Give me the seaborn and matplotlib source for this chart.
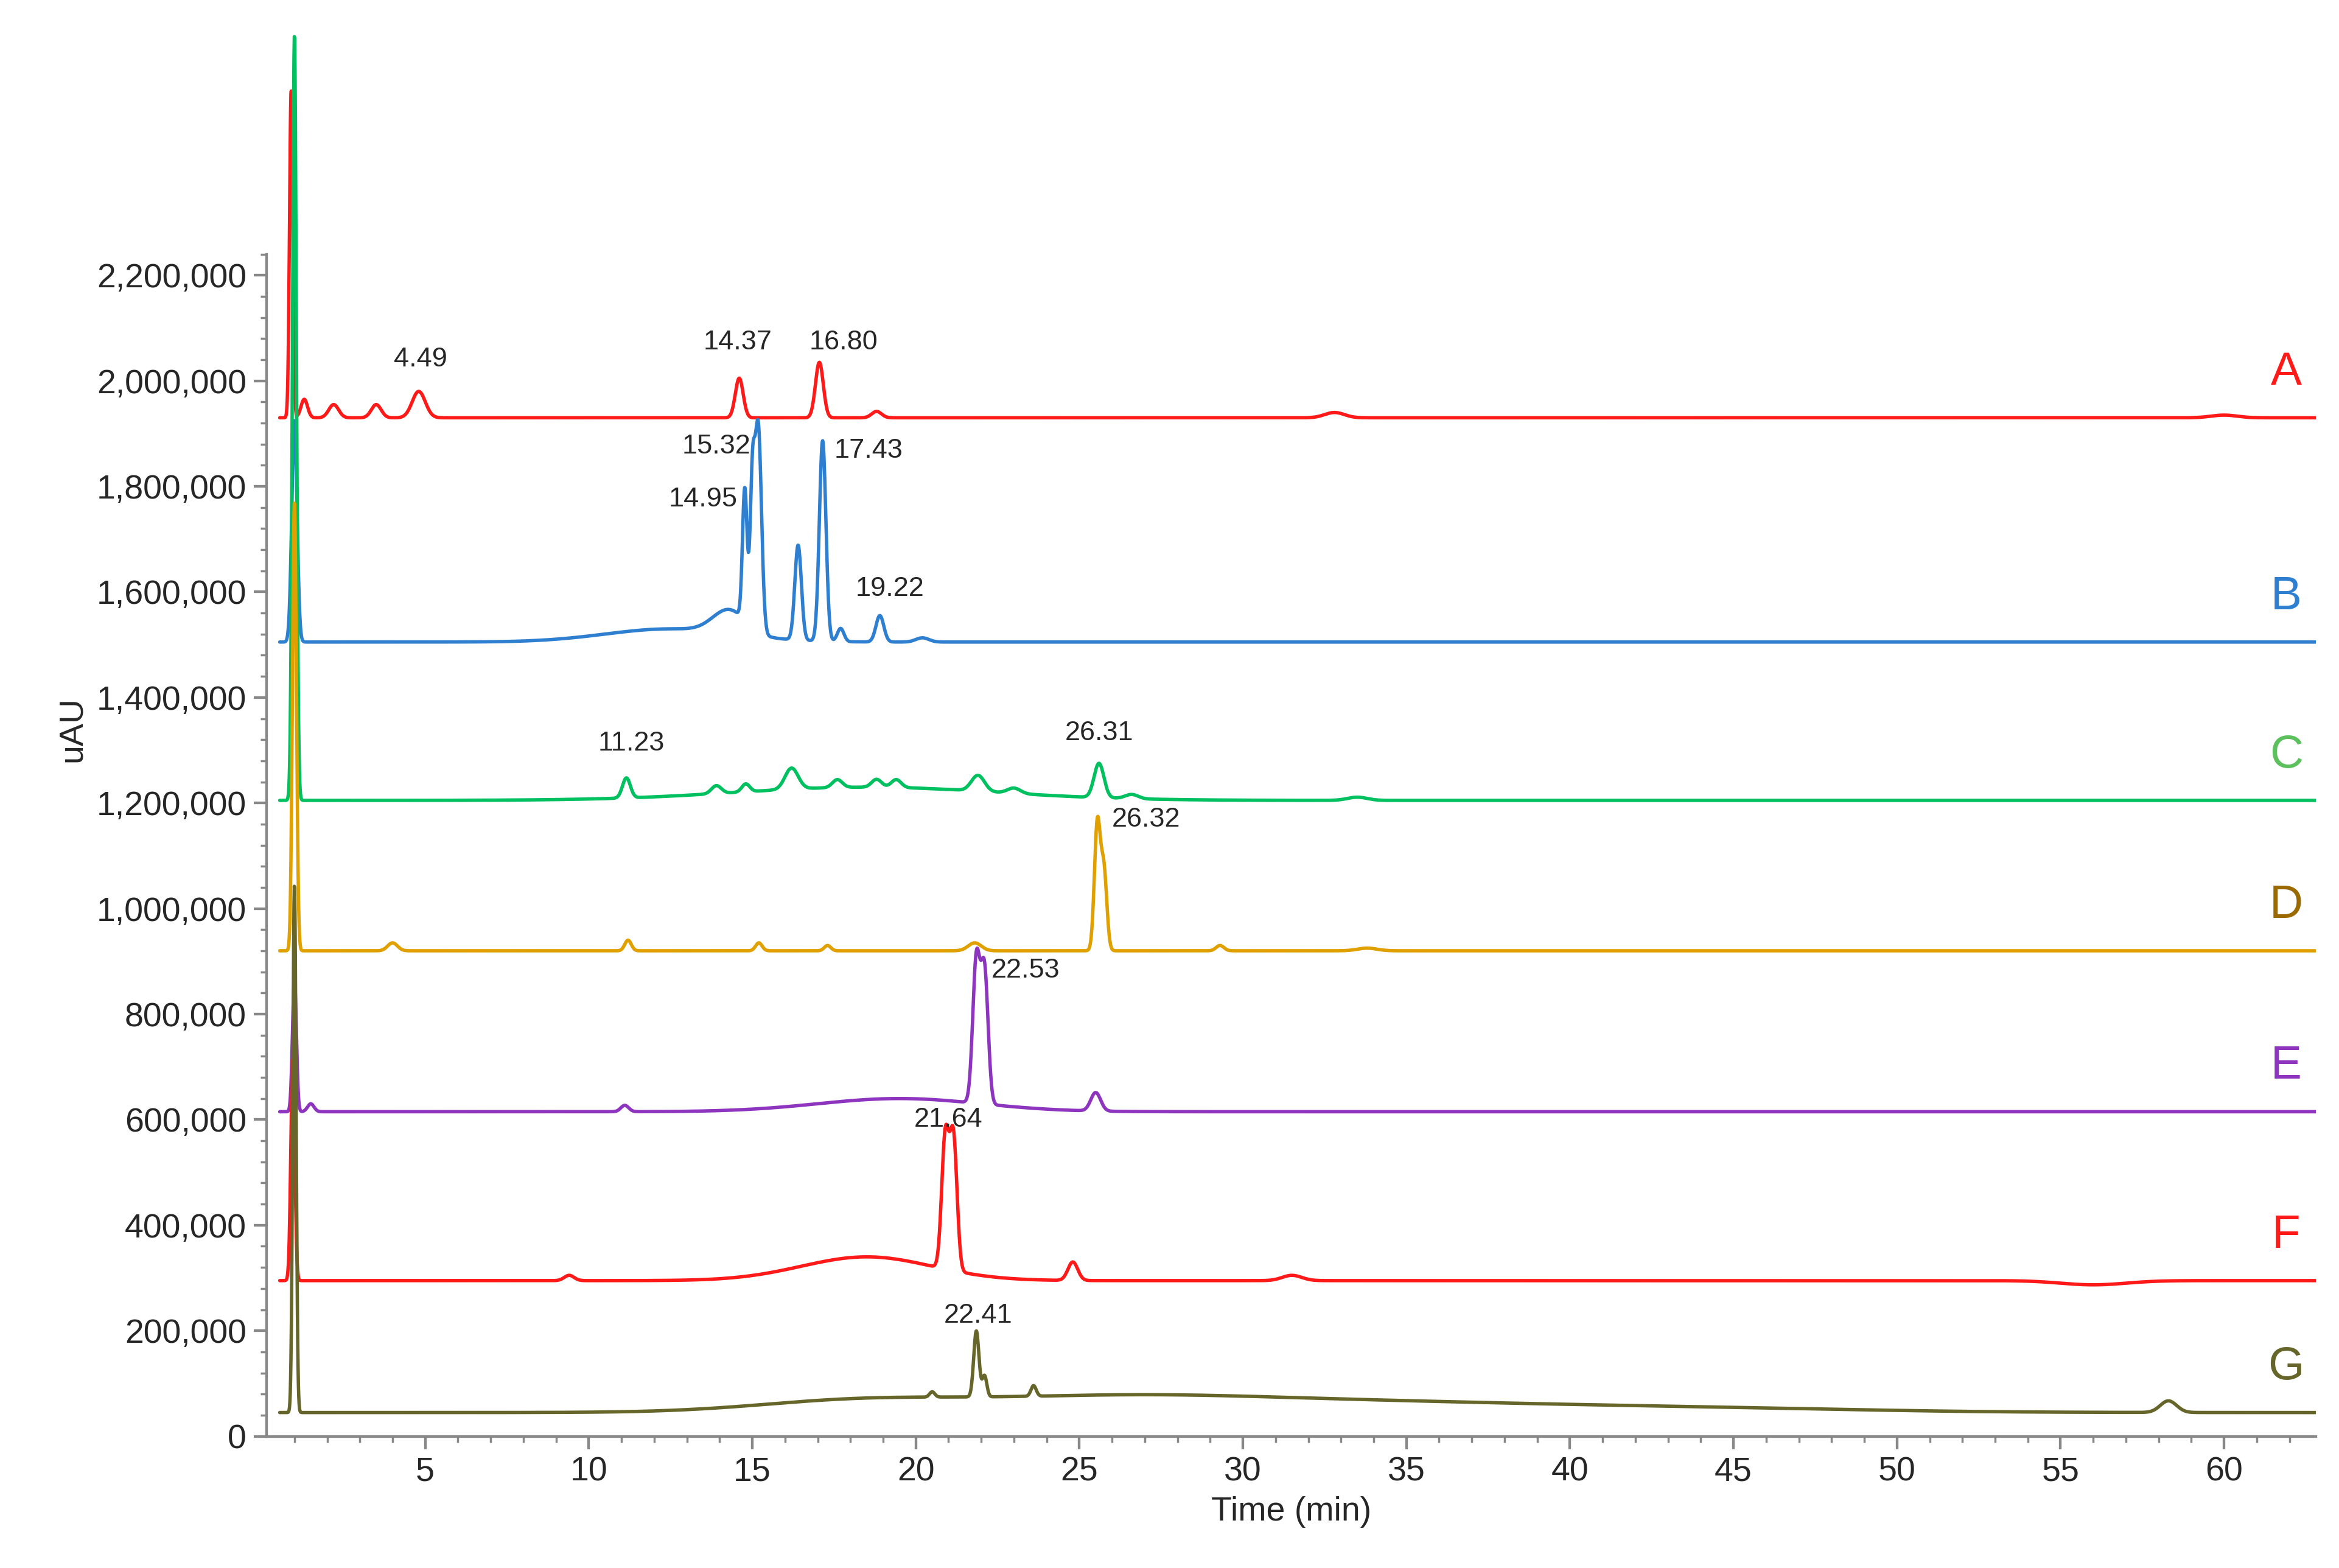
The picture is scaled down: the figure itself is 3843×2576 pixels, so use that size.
import numpy as np
import pandas as pd
import matplotlib.pyplot as plt
import seaborn as sns
from matplotlib.ticker import MultipleLocator, FixedLocator, FuncFormatter

sns.set_theme(style="ticks")
plt.rcParams['font.family'] = ['Liberation Sans', 'DejaVu Sans']

# Trace names, baselines (uAU) and colours
traces = ['A', 'B', 'C', 'D', 'E', 'F', 'G']
baselines = [1930000, 1505000, 1205000, 920000, 615000, 295000, 45000]
line_colors = ['#ff1a1a', '#2f7fd0', '#00c060', '#e0a000', '#8e35c0', '#ff1a1a', '#66662a']
label_colors = ['#ff1a1a', '#2f7fd0', '#5cc05c', '#9a6a00', '#8e35c0', '#ff1a1a', '#66662a']

# Peaks: (time min, height above baseline, width min)
peaks = {
    'A': [(0.9, 620000, 0.05), (1.3, 35000, 0.1), (2.2, 25000, 0.15), (3.5, 25000, 0.15),
          (4.8, 50000, 0.2), (14.6, 75000, 0.12), (17.05, 105000, 0.12), (18.8, 12000, 0.15),
          (32.8, 10000, 0.3), (60.0, 5000, 0.4)],
    'B': [(1.0, 420000, 0.08), (12.5, 25000, 2.0), (14.3, 45000, 0.5), (14.77, 250000, 0.07),
          (15.0, 250000, 0.07), (15.18, 390000, 0.1), (16.4, 180000, 0.1), (17.15, 380000, 0.1),
          (17.7, 25000, 0.1), (18.9, 50000, 0.12), (20.2, 8000, 0.2)],
    'C': [(1.0, 1450000, 0.06), (11.15, 38000, 0.12), (18.5, 25000, 4.0), (13.9, 15000, 0.15),
          (14.8, 15000, 0.12), (16.2, 40000, 0.2), (17.6, 15000, 0.15), (18.8, 15000, 0.15),
          (19.4, 15000, 0.15), (21.9, 30000, 0.2), (23.0, 10000, 0.2), (25.6, 65000, 0.15),
          (26.6, 8000, 0.2), (33.5, 6000, 0.3)],
    'D': [(1.0, 850000, 0.06), (4.0, 15000, 0.15), (11.2, 20000, 0.1), (15.2, 15000, 0.1),
          (17.3, 10000, 0.1), (21.8, 15000, 0.2), (25.55, 240000, 0.09), (25.75, 150000, 0.09),
          (29.3, 10000, 0.12), (33.8, 5000, 0.3)],
    'E': [(1.0, 250000, 0.06), (1.5, 15000, 0.1), (11.1, 12000, 0.12), (19.5, 25000, 2.5),
          (21.85, 270000, 0.11), (22.1, 250000, 0.11), (25.5, 35000, 0.15)],
    'F': [(0.95, 420000, 0.06), (9.4, 10000, 0.15), (18.5, 45000, 2.0), (20.9, 250000, 0.11),
          (21.15, 250000, 0.11), (24.8, 35000, 0.15), (31.5, 10000, 0.3), (56.0, -8000, 1.0)],
    'G': [(1.0, 1000000, 0.05), (18.0, 18000, 3.0), (26.0, 30000, 5.0), (35.0, 15000, 5.0),
          (44.0, 8000, 5.0), (20.5, 10000, 0.08), (21.85, 125000, 0.08), (22.1, 40000, 0.07),
          (23.6, 20000, 0.08), (58.3, 22000, 0.25)],
}
# Peak labels: (x, y, text, alignment)
peak_labels = {
    'A': [(4.85, 2040000, '4.49', 'center'), (14.55, 2073000, '14.37', 'center'),
          (16.75, 2073000, '16.80', 'left')],
    'B': [(14.55, 1775000, '14.95', 'right'), (14.95, 1876000, '15.32', 'right'),
          (17.5, 1868000, '17.43', 'left'), (19.2, 1606000, '19.22', 'center')],
    'C': [(11.3, 1313000, '11.23', 'center'), (25.6, 1332000, '26.31', 'center')],
    'D': [(26.0, 1169000, '26.32', 'left')],
    'E': [(22.3, 882000, '22.53', 'left')],
    'F': [(21.0, 600000, '21.64', 'center')],
    'G': [(21.9, 228000, '22.41', 'center')],
}

t = np.linspace(0.55, 62.8, 6000)
rows = []
for name, base in zip(traces, baselines):
    y = np.full_like(t, base, dtype=float)
    for pos, h, w in peaks[name]:
        y += h * np.exp(-0.5 * ((t - pos) / w) ** 2)
    rows.append(pd.DataFrame({'time': t, 'uAU': y, 'trace': name}))
df = pd.concat(rows)

fig = plt.figure(figsize=(15.372, 10.304), dpi=250)
ax = fig.add_axes([0.114, 0.084, 0.876, 0.902])
sns.lineplot(data=df, x='time', y='uAU', hue='trace', palette=dict(zip(traces, line_colors)),
             linewidth=1.6, legend=False, ax=ax, estimator=None, sort=False)

ax.set_xlim(0.15, 62.8)
ax.set_ylim(0, 2680000)
ax.spines['top'].set_visible(False)
ax.spines['right'].set_visible(False)
ax.spines['left'].set_bounds(0, 2240000)
ax.spines['left'].set_color('#888888')
ax.spines['bottom'].set_color('#888888')
ax.set_yticks(np.arange(0, 2200001, 200000))
ax.yaxis.set_minor_locator(FixedLocator(np.arange(0, 2240001, 40000)))
ax.set_xticks(np.arange(5, 61, 5))
ax.xaxis.set_minor_locator(MultipleLocator(1))
ax.yaxis.set_major_formatter(FuncFormatter(lambda v, p: f"{int(v):,}"))
ax.tick_params(axis='both', labelsize=16, color='#888888', direction='out')
ax.tick_params(which='minor', length=3, color='#888888')
ax.set_xlabel('Time (min)', fontsize=16)
ax.set_ylabel('uAU', fontsize=16)

for name, base, col in zip(traces, baselines, label_colors):
    ax.text(61.9, base + 85000, name, color=col, fontsize=22, ha='center', va='center')
    for x, y, s, ha in peak_labels[name]:
        ax.text(x, y, s, fontsize=13, ha=ha, va='center')

fig.savefig('out.png', dpi=250)
